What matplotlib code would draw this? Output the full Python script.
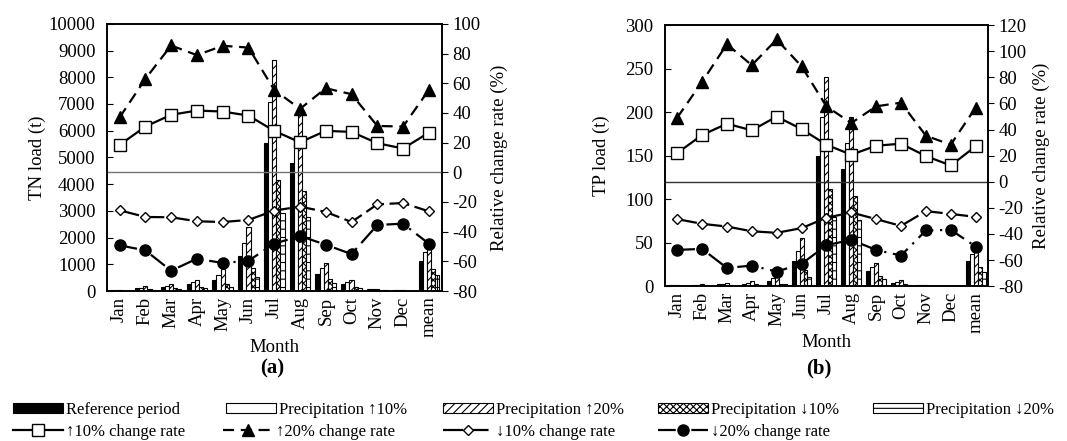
import numpy as np
import matplotlib
matplotlib.use('Agg')
import matplotlib.pyplot as plt
from matplotlib.lines import Line2D
from matplotlib.patches import Patch

plt.rcParams['font.family'] = ['Liberation Serif', 'DejaVu Serif']
plt.rcParams['hatch.linewidth'] = 0.8
plt.rcParams['axes.unicode_minus'] = False

months = ['Jan', 'Feb', 'Mar', 'Apr', 'May', 'Jun', 'Jul', 'Aug', 'Sep', 'Oct', 'Nov', 'Dec', 'mean']

# TN load (t)
tn_ref = [30, 100, 150, 250, 430, 1300, 5530, 4800, 650, 250, 60, 30, 1140]
tn_up10 = [40, 130, 200, 330, 600, 1800, 7080, 5800, 870, 330, 80, 30, 1450]
tn_up20 = [50, 180, 260, 420, 820, 2380, 8630, 6900, 1050, 400, 80, 30, 1750]
tn_dn10 = [20, 70, 100, 150, 250, 870, 4160, 3740, 450, 150, 40, 20, 830]
tn_dn20 = [15, 50, 70, 100, 150, 530, 2930, 2780, 320, 100, 30, 15, 590]

# TN relative change rate (%)
tn_r_up10 = [18.4, 30.8, 38.7, 41.6, 40.9, 38.2, 27.9, 20.2, 27.9, 27.2, 19.6, 16.0, 26.7]
tn_r_up20 = [36.9, 62.9, 85.4, 78.9, 85.2, 84.0, 55.5, 42.7, 56.6, 52.6, 31.2, 30.8, 55.5]
tn_r_dn10 = [-25.6, -30.1, -30.3, -33.0, -33.5, -32.1, -25.8, -23.1, -26.7, -33.5, -21.6, -20.7, -26.3]
tn_r_dn20 = [-49.2, -52.6, -66.3, -58.2, -61.1, -59.6, -48.1, -42.9, -48.8, -55.1, -35.5, -34.6, -48.1]

# TP load (t)
tp_ref = [1, 1, 2, 3, 6, 29, 150, 135, 17, 4, 1, 0.5, 29]
tp_up10 = [1, 1.5, 3, 4, 9, 41, 195, 165, 22, 5, 1, 0.5, 37]
tp_up20 = [1, 2, 4, 6, 12, 55, 240, 195, 27, 7, 1, 0.5, 47]
tp_dn10 = [0.5, 0.5, 1, 2, 3, 19, 112, 104, 12, 3, 0.5, 0.3, 22]
tp_dn20 = [0.5, 0.5, 0.5, 1, 2, 11, 79, 76, 8, 1.5, 0.5, 0.3, 16]

# TP relative change rate (%)
tp_r_up10 = [22.0, 35.8, 44.5, 39.4, 49.9, 40.4, 28.4, 20.7, 27.6, 29.2, 19.7, 12.5, 27.1]
tp_r_up20 = [49.1, 76.5, 105.4, 89.3, 109.0, 88.5, 57.8, 45.0, 57.8, 60.6, 35.3, 28.4, 56.8]
tp_r_dn10 = [-28.6, -32.2, -34.3, -37.9, -39.1, -35.5, -27.6, -23.5, -28.6, -33.8, -22.5, -24.6, -26.9]
tp_r_dn20 = [-52.2, -51.4, -66.0, -64.2, -68.8, -62.9, -48.6, -44.5, -52.2, -56.5, -37.3, -36.8, -49.6]

bar_labels = ['Reference period', 'Precipitation ↑10%', 'Precipitation ↑20%',
              'Precipitation ↓10%', 'Precipitation ↓20%']
line_labels = ['↑10% change rate', '↑20% change rate', '↓10% change rate', '↓20% change rate']

bar_styles = [dict(color='black', edgecolor='black'),
              dict(color='white', edgecolor='black'),
              dict(color='white', edgecolor='black', hatch='////'),
              dict(color='white', edgecolor='black', hatch='xxxxx'),
              dict(color='white', edgecolor='black', hatch='++')]
legend_hatches = [None, None, '////', 'xxxxx', '---']
line_styles = [dict(color='black', ls='-', marker='s', mfc='white', mec='black', ms=8),
               dict(color='black', ls=(0, (5, 3)), marker='^', mfc='black', mec='black', ms=8),
               dict(color='black', ls=(0, (9, 2.5)), marker='D', mfc='white', mec='black', ms=5.5),
               dict(color='black', ls=(0, (8, 3, 1, 3)), marker='o', mfc='black', mec='black', ms=8)]

fig = plt.figure(figsize=(10.67, 4.41), dpi=100)
ax_a = fig.add_axes([0.100, 0.340, 0.314, 0.606])
ax_b = fig.add_axes([0.623, 0.351, 0.303, 0.592])

x = np.arange(len(months))
w = 0.16
fs = 13.5


def panel(ax, loads, rates, ylim, yticks, rlim, rticks, ylabel, zero_color, lab_x, rlab_x):
    for i, (vals, st) in enumerate(zip(loads, bar_styles)):
        ax.bar(x + (i - 2) * w, vals, w, linewidth=0.8, **st)
    ax.set_xlim(-0.5, len(months) - 0.5)
    ax.set_ylim(*ylim)
    ax.set_yticks(yticks)
    ax.set_xticks(x)
    ax.set_xticklabels(months, rotation=90, fontsize=fs)
    ax.tick_params(axis='x', length=0, pad=4)
    ax.tick_params(axis='y', labelsize=fs, direction='in', length=4, pad=8)
    ax.set_ylabel(ylabel, fontsize=fs)
    ax.yaxis.set_label_coords(lab_x, 0.5)
    ax.set_xlabel('Month', fontsize=fs, labelpad=1)
    ax2 = ax.twinx()
    ax2.axhline(0, color=zero_color, lw=1)
    for vals, st in zip(rates, line_styles):
        ax2.plot(x, vals, lw=1.6, **st)
    ax2.set_ylim(*rlim)
    ax2.set_yticks(rticks)
    ax2.tick_params(axis='y', labelsize=fs, direction='out', length=4)
    ax2.set_ylabel('Relative change rate (%)', fontsize=fs)
    ax2.yaxis.set_label_coords(rlab_x, 0.5)
    for a in (ax, ax2):
        for s in a.spines.values():
            s.set_linewidth(1.2)


panel(ax_a, [tn_ref, tn_up10, tn_up20, tn_dn10, tn_dn20],
      [tn_r_up10, tn_r_up20, tn_r_dn10, tn_r_dn20],
      (0, 10000), np.arange(0, 10001, 1000), (-80, 100), np.arange(-80, 101, 20),
      'TN load (t)', '0.45', -0.18, 1.145)
panel(ax_b, [tp_ref, tp_up10, tp_up20, tp_dn10, tp_dn20],
      [tp_r_up10, tp_r_up20, tp_r_dn10, tp_r_dn20],
      (0, 300), np.arange(0, 301, 50), (-80, 120), np.arange(-80, 121, 20),
      'TP load (t)', '0.2', -0.17, 1.137)

fig.text(272 / 1067, 1 - 368 / 441, '(a)', ha='center', va='center', fontsize=15, fontweight='bold')
fig.text(819 / 1067, 1 - 368 / 441, '(b)', ha='center', va='center', fontsize=15, fontweight='bold')

# legend rows
bar_handles = [Patch(facecolor=st['color'], edgecolor='black', hatch=hh, linewidth=0.8)
               for st, hh in zip(bar_styles, legend_hatches)]
line_handles = [Line2D([], [], lw=1.6, **st) for st in line_styles]
row1_x = [13, 226, 443, 658, 873]
row2_x = [13, 223, 443, 658]
for h, l, px in zip(bar_handles, bar_labels, row1_x):
    fig.legend([h], [l], loc='center left', bbox_to_anchor=(px / 1067, 1 - 410 / 441),
               frameon=False, fontsize=12, handlelength=3.0, handleheight=0.6,
               handletextpad=0.2, borderpad=0, borderaxespad=0)
for h, l, px in zip(line_handles, line_labels, row2_x):
    fig.legend([h], [l], loc='center left', bbox_to_anchor=(px / 1067, 1 - 432 / 441),
               frameon=False, fontsize=12, handlelength=3.0,
               handletextpad=0.2, borderpad=0, borderaxespad=0)

fig.savefig('out.png', dpi=100)
